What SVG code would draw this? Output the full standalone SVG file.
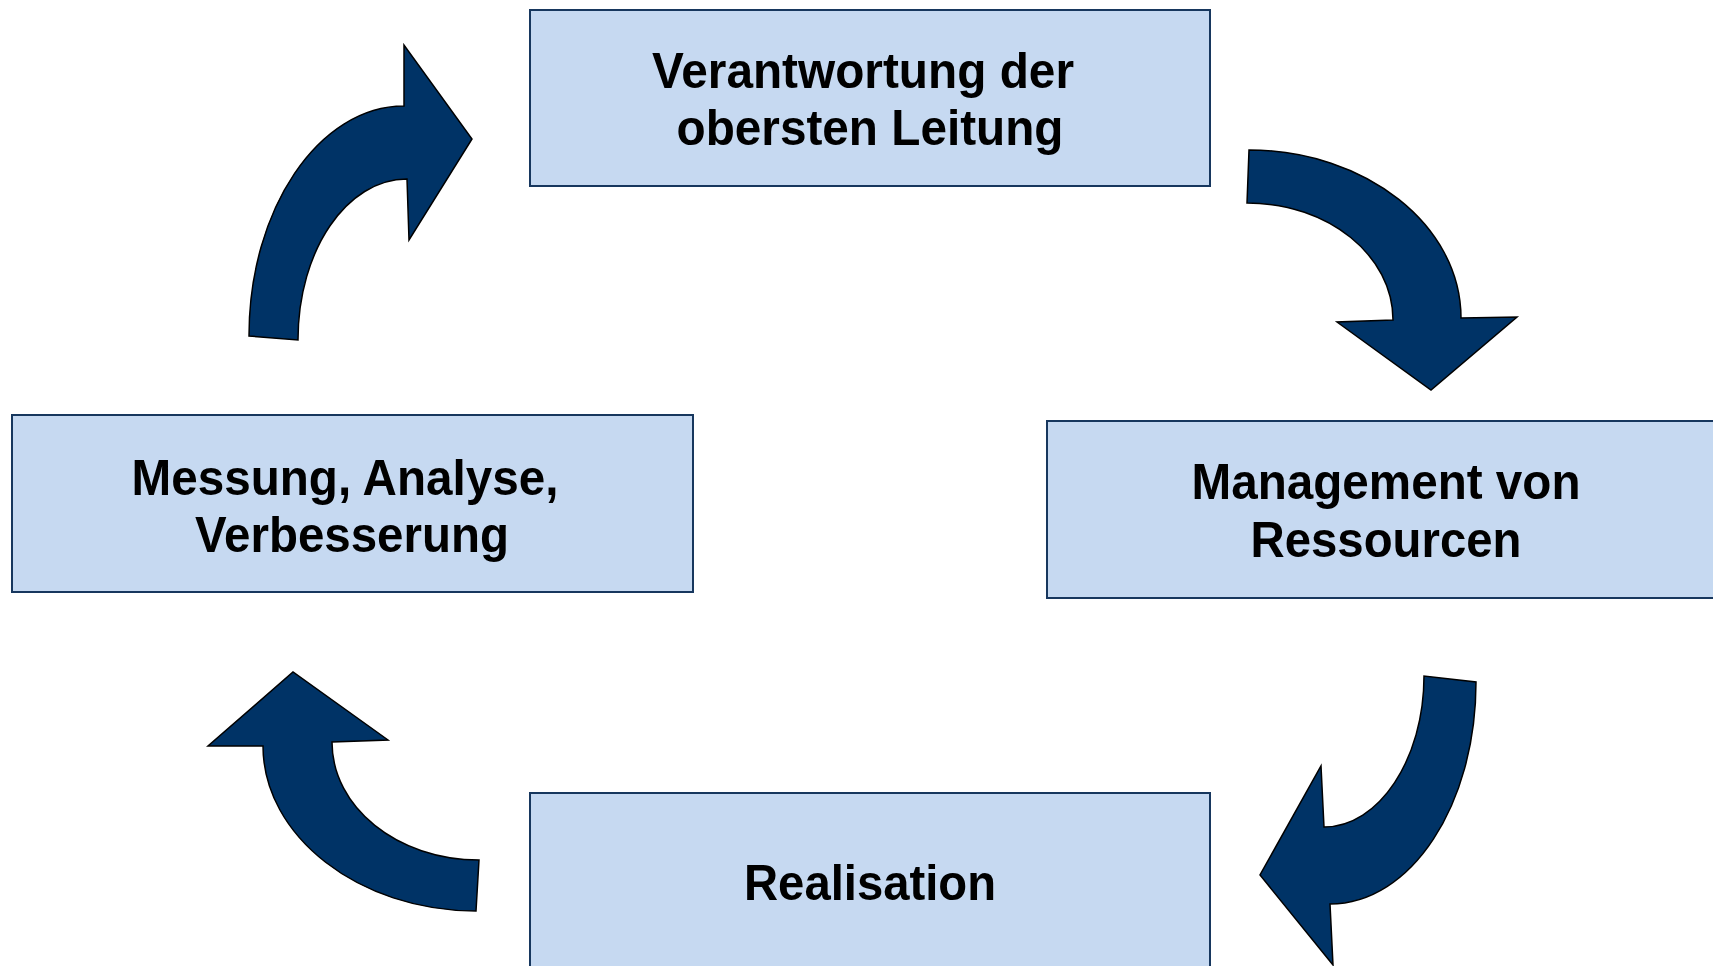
<svg xmlns="http://www.w3.org/2000/svg" width="1713" height="966" viewBox="0 0 1713 966">
<style>
.box{fill:#C6D9F1;stroke:#17375E;stroke-width:2}
.lbl{font-family:"Liberation Sans",Arial,Helvetica,sans-serif;font-weight:bold;font-size:50px;fill:#000;text-anchor:middle}
.arr{fill:#003366;stroke:#000;stroke-width:1.5;stroke-linejoin:miter}
</style>
<rect width="1713" height="966" fill="#fff"/>
<g id="connectors">
<path class="arr" d="M249,336 C249,209 319,106 404,106 L404,45 L472,139 L409,240 L407,179 C347,179 298,250 298,340 Z"/>
<path class="arr" d="M1249,150 C1365,150 1461,225 1461,318 L1517,317 L1431,390 L1337,322 L1393,320 C1393,256 1329,203 1247,203 Z"/>
<path class="arr" d="M1476,682 C1476,805 1411,904 1330,904 L1333,965 L1260,875 L1321,766 L1324,827 C1379,827 1424,759 1424,676 Z"/>
<path class="arr" d="M476,911 C359,911 263,836 263,746 L208,746 L293,672 L388,740 L332,742 C332,807 397,860 479,860 Z"/>
</g>
<g id="node-leitung">
<rect class="box" x="530" y="10" width="680" height="176"/>
<text class="lbl" x="863" y="88" textLength="422" lengthAdjust="spacingAndGlyphs">Verantwortung der</text>
<text class="lbl" x="870" y="145" textLength="387" lengthAdjust="spacingAndGlyphs">obersten Leitung</text>
</g>
<g id="node-ressourcen">
<rect class="box" x="1047" y="421" width="680" height="177"/>
<text class="lbl" x="1386" y="499" textLength="389" lengthAdjust="spacingAndGlyphs">Management von</text>
<text class="lbl" x="1386" y="557" textLength="271" lengthAdjust="spacingAndGlyphs">Ressourcen</text>
</g>
<g id="node-realisation">
<rect class="box" x="530" y="793" width="680" height="176"/>
<text class="lbl" x="870" y="900" textLength="252" lengthAdjust="spacingAndGlyphs">Realisation</text>
</g>
<g id="node-messung">
<rect class="box" x="12" y="415" width="681" height="177"/>
<text class="lbl" x="345" y="495" textLength="427" lengthAdjust="spacingAndGlyphs">Messung, Analyse,</text>
<text class="lbl" x="352" y="552" textLength="314" lengthAdjust="spacingAndGlyphs">Verbesserung</text>
</g>
</svg>
